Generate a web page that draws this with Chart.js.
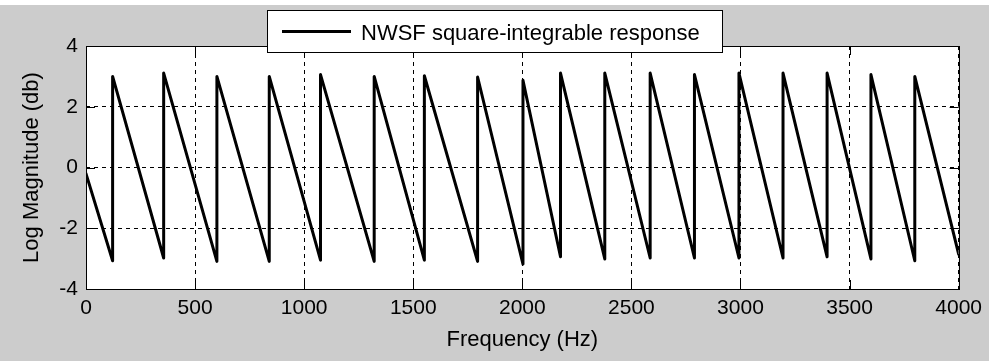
<!DOCTYPE html>
<html>
<head>
<meta charset="utf-8">
<script src="https://cdn.jsdelivr.net/npm/chart.js@4/dist/chart.umd.min.js"></script>
<style>
  html, body { margin: 0; padding: 0; background: #ffffff; }
  #wrap { width: 989px; height: 361px; position: relative; }
</style>
</head>
<body>
<div id="wrap"><canvas id="c" width="989" height="361"></canvas></div>
<script>
// ---- data ----
const seriesLabel = 'NWSF square-integrable response';
const xTitle = 'Frequency (Hz)';
const yTitle = 'Log Magnitude (db)';
const xTicks = [0, 500, 1000, 1500, 2000, 2500, 3000, 3500, 4000];
const yTicks = [-4, -2, 0, 2, 4];
const startFreq = 0;
const startDb = -0.2;
const jumpFreqs = [122, 356, 600, 840, 1075, 1321, 1551, 1795, 2003, 2175, 2378, 2586, 2789, 2993, 3195, 3397, 3598, 3799];
const troughDb  = [-3.07, -2.98, -3.09, -3.09, -3.05, -3.09, -3.05, -3.09, -3.18, -2.94, -3.01, -2.98, -2.98, -2.98, -2.98, -2.94, -3.01, -3.07];
const peakDb    = [3.00, 3.11, 3.00, 3.00, 3.06, 3.00, 3.02, 2.98, 2.87, 3.11, 3.11, 3.11, 3.06, 3.11, 3.11, 3.11, 3.06, 3.00];
const endFreq = 4000;
const endDb = -2.85;

// build point list: each tooth drops linearly to a trough, then jumps vertically to a peak
const points = [{x: startFreq, y: startDb}];
for (let i = 0; i < jumpFreqs.length; i++) {
  points.push({x: jumpFreqs[i], y: troughDb[i]});
  points.push({x: jumpFreqs[i], y: peakDb[i]});
}
points.push({x: endFreq, y: endDb});

const FONT = 'Liberation Sans, Arial, Helvetica, sans-serif';
const GREY = '#cccccc';

const framePlugin = {
  id: 'frame',
  beforeDraw(chart) {
    const ctx = chart.ctx;
    ctx.save();
    ctx.fillStyle = '#ffffff';
    ctx.fillRect(0, 0, chart.width, 5);
    ctx.fillStyle = GREY;
    ctx.fillRect(0, 5, chart.width, chart.height - 5);
    const a = chart.chartArea;
    ctx.fillStyle = '#ffffff';
    ctx.fillRect(a.left, a.top, a.right - a.left, a.bottom - a.top);
    ctx.restore();
  },
  beforeDatasetsDraw(chart) {
    const ctx = chart.ctx;
    const a = chart.chartArea;
    const xs = chart.scales.x, ys = chart.scales.y;
    const L = 9;
    ctx.save();
    ctx.strokeStyle = '#000';
    ctx.lineWidth = 1;
    ctx.beginPath();
    xTicks.forEach(v => {
      const px = Math.round(xs.getPixelForValue(v)) + 0.5;
      ctx.moveTo(px, a.bottom); ctx.lineTo(px, a.bottom - L);
      ctx.moveTo(px, a.top); ctx.lineTo(px, a.top + L);
    });
    yTicks.forEach(v => {
      const py = Math.round(ys.getPixelForValue(v)) + 0.5;
      ctx.moveTo(a.left, py); ctx.lineTo(a.left + L, py);
      ctx.moveTo(a.right, py); ctx.lineTo(a.right - L, py);
    });
    ctx.stroke();
    ctx.strokeRect(Math.round(a.left) + 0.5, Math.round(a.top) + 0.5,
                   Math.round(a.right - a.left), Math.round(a.bottom - a.top));
    ctx.restore();
  },
  afterDraw(chart) {
    const ctx = chart.ctx;
    ctx.save();
    // legend box
    const bx = 267, by = 10, bw = 455, bh = 42;
    ctx.fillStyle = '#ffffff';
    ctx.fillRect(bx, by, bw, bh);
    ctx.strokeStyle = '#000';
    ctx.lineWidth = 1;
    ctx.strokeRect(bx + 0.5, by + 0.5, bw, bh);
    ctx.lineWidth = 3;
    ctx.beginPath();
    ctx.moveTo(282, 31.5);
    ctx.lineTo(351, 31.5);
    ctx.stroke();
    ctx.fillStyle = '#000';
    ctx.font = '22px ' + FONT;
    ctx.textBaseline = 'alphabetic';
    ctx.textAlign = 'left';
    ctx.fillText(seriesLabel, 361, 40);
    ctx.restore();
  }
};

new Chart(document.getElementById('c'), {
  type: 'scatter',
  data: {
    datasets: [{
      label: seriesLabel,
      data: points,
      showLine: true,
      borderColor: '#000000',
      backgroundColor: '#000000',
      borderWidth: 3,
      borderJoinStyle: 'round',
      borderCapStyle: 'round',
      pointRadius: 0,
      tension: 0
    }]
  },
  options: {
    responsive: false,
    animation: false,
    events: [],
    layout: { padding: { top: 46, right: 27, left: 0, bottom: 0 } },
    plugins: {
      legend: { display: false },
      tooltip: { enabled: false },
      title: { display: false }
    },
    scales: {
      x: {
        type: 'linear',
        min: 0, max: 4000,
        afterFit(scale) { scale.height = 72; },
        afterBuildTicks(scale) { scale.ticks = xTicks.map(v => ({value: v})); },
        ticks: {
          color: '#000',
          font: { family: FONT, size: 21 },
          padding: 7,
          maxRotation: 0,
          autoSkip: false,
          callback: (v) => String(v)
        },
        grid: { color: '#000', lineWidth: 1, drawTicks: false },
        border: { display: false, dash: [4, 4] },
        title: {
          display: true, text: xTitle, color: '#000',
          font: { family: FONT, size: 22 },
          padding: { top: 0, bottom: 8 }
        }
      },
      y: {
        type: 'linear',
        min: -4, max: 4,
        afterFit(scale) { scale.width = 86; },
        afterBuildTicks(scale) { scale.ticks = yTicks.map(v => ({value: v})); },
        ticks: {
          color: '#000',
          font: { family: FONT, size: 21 },
          padding: 8,
          autoSkip: false,
          callback: (v) => String(v)
        },
        grid: { color: '#000', lineWidth: 1, drawTicks: false },
        border: { display: false, dash: [4, 4] },
        title: {
          display: true, text: yTitle, color: '#000',
          font: { family: FONT, size: 22 },
          padding: { top: 19, bottom: 0 }
        }
      }
    }
  },
  plugins: [framePlugin]
});
</script>
</body>
</html>
